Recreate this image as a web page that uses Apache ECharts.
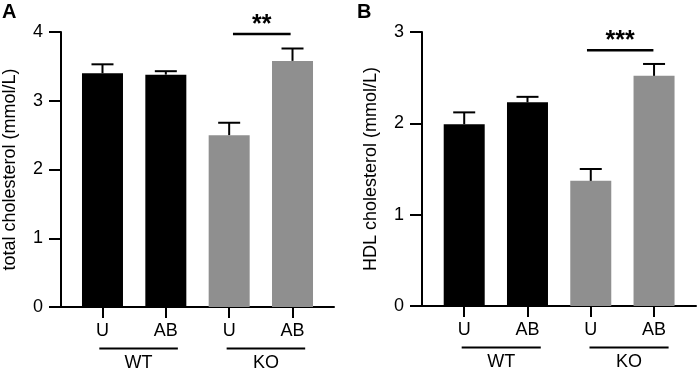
<!DOCTYPE html>
<html>
<head>
<meta charset="utf-8">
<script src="https://cdn.jsdelivr.net/npm/echarts@6/dist/echarts.min.js"></script>
<style>
html,body{margin:0;padding:0;background:#fff;}
#main{width:699px;height:371px;}
</style>
</head>
<body>
<div id="main"></div>
<script>
// ---- data ----
const catLabels = ['U', 'AB', 'U', 'AB'];
const catPos = [0, 1, 2, 3];
const groupLabels = ['WT', 'KO'];
const totalMean = [3.40, 3.38, 2.50, 3.58];
const totalErr = [0.13, 0.05, 0.18, 0.18];
const hdlMean = [1.99, 2.23, 1.37, 2.52];
const hdlErr = [0.13, 0.06, 0.13, 0.13];
const totalTicks = [0, 1, 2, 3, 4];
const hdlTicks = [0, 1, 2, 3];
const groupSpanA = [[-0.05, 1.19], [1.96, 3.20]];
const groupSpanB = [[-0.04, 1.21], [1.98, 3.23]];
const sigA = { from: 2.06, to: 2.97, y: 3.97, text: '**' };
const sigB = { from: 1.94, to: 2.99, y: 2.80, text: '***' };

const barColors = ['#000000', '#000000', '#8f8f8f', '#8f8f8f'];
const FONT = '"Liberation Sans", Arial, Helvetica, sans-serif';

const chart = echarts.init(document.getElementById('main'), null, { renderer: 'canvas' });

function xAxisCfg(gi, min, max) {
  return {
    type: 'value', gridIndex: gi, min: min, max: max,
    splitLine: { show: false },
    axisLine: { show: true, lineStyle: { color: '#000', width: 2 } },
    axisTick: { show: true, customValues: catPos, length: 11, lineStyle: { color: '#000', width: 2 } },
    axisLabel: { show: true, customValues: catPos, margin: 15, color: '#000', fontSize: 18, fontFamily: FONT,
      formatter: v => catLabels[Math.round(v)] }
  };
}
function yAxisCfg(gi, max, name) {
  return {
    type: 'value', gridIndex: gi, min: 0, max: max, interval: 1,
    name: name, nameLocation: 'middle', nameGap: 42,
    nameTextStyle: { color: '#000', fontSize: 18, fontFamily: FONT },
    splitLine: { show: false },
    axisLine: { show: true, onZero: false, lineStyle: { color: '#000', width: 2 } },
    axisTick: { show: true, length: 12, lineStyle: { color: '#000', width: 2 } },
    axisLabel: { show: true, margin: 18, color: '#000', fontSize: 18, fontFamily: FONT }
  };
}
function barSeries(gi, vals) {
  return {
    type: 'bar', xAxisIndex: gi, yAxisIndex: gi, barWidth: 41,
    data: vals.map((v, i) => ({ value: [catPos[i], v], itemStyle: { color: barColors[i] } })),
    silent: true, animation: false
  };
}
function errSeries(gi, vals, errs) {
  return {
    type: 'custom', xAxisIndex: gi, yAxisIndex: gi, animation: false, silent: true, z: 5,
    data: vals.map((v, i) => [catPos[i], v, errs[i]]),
    renderItem: function (params, api) {
      const x = api.value(0), m = api.value(1), e = api.value(2);
      const p0 = api.coord([x, m]);
      const p1 = api.coord([x, m + e]);
      return {
        type: 'group', children: [
          { type: 'line', shape: { x1: p0[0], y1: p0[1], x2: p1[0], y2: p1[1] }, style: { stroke: '#000', lineWidth: 2 } },
          { type: 'line', shape: { x1: p1[0] - 11, y1: p1[1], x2: p1[0] + 11, y2: p1[1] }, style: { stroke: '#000', lineWidth: 2 } }
        ]
      };
    }
  };
}
function sigSeries(gi, sig) {
  return {
    type: 'custom', xAxisIndex: gi, yAxisIndex: gi, animation: false, silent: true, z: 6,
    data: [[sig.from, sig.y]],
    renderItem: function (params, api) {
      const a = api.coord([sig.from, sig.y]);
      const b = api.coord([sig.to, sig.y]);
      return {
        type: 'group', children: [
          { type: 'line', shape: { x1: a[0], y1: a[1], x2: b[0], y2: b[1] }, style: { stroke: '#000', lineWidth: 2.5 } },
          { type: 'text', x: (a[0] + b[0]) / 2, y: a[1] - 9,
            style: { text: sig.text, fill: '#000', font: 'bold 25px ' + FONT, align: 'center', verticalAlign: 'middle' } }
        ]
      };
    }
  };
}
function groupSeries(gi, spans) {
  return {
    type: 'custom', xAxisIndex: gi, yAxisIndex: gi, animation: false, silent: true, z: 6,
    data: spans.map(s => [s[0], 0]),
    renderItem: function (params, api) {
      const s = spans[params.dataIndex];
      const a = api.coord([s[0], 0]);
      const b = api.coord([s[1], 0]);
      const y = a[1] + 41.5;
      return {
        type: 'group', children: [
          { type: 'line', shape: { x1: a[0], y1: y, x2: b[0], y2: y }, style: { stroke: '#000', lineWidth: 2 } },
          { type: 'text', x: (a[0] + b[0]) / 2, y: y + 15,
            style: { text: groupLabels[params.dataIndex], fill: '#000', font: '18px ' + FONT, align: 'center', verticalAlign: 'middle' } }
        ]
      };
    }
  };
}

const option = {
  backgroundColor: '#fff',
  animation: false,
  grid: [
    { left: 61, top: 32, width: 273, height: 275, containLabel: false },
    { left: 422, top: 32, width: 274, height: 274, containLabel: false }
  ],
  xAxis: [xAxisCfg(0, -0.655, 3.655), xAxisCfg(1, -0.667, 3.663)],
  yAxis: [yAxisCfg(0, 4, 'total cholesterol (mmol/L)'), yAxisCfg(1, 3, 'HDL cholesterol (mmol/L)')],
  graphic: [
    { type: 'text', left: 2, top: 2, style: { text: 'A', fill: '#000', font: 'bold 20px ' + FONT } },
    { type: 'text', left: 357, top: 2, style: { text: 'B', fill: '#000', font: 'bold 20px ' + FONT } }
  ],
  series: [
    barSeries(0, totalMean), errSeries(0, totalMean, totalErr), sigSeries(0, sigA), groupSeries(0, groupSpanA),
    barSeries(1, hdlMean), errSeries(1, hdlMean, hdlErr), sigSeries(1, sigB), groupSeries(1, groupSpanB)
  ]
};
chart.setOption(option);
</script>
</body>
</html>
